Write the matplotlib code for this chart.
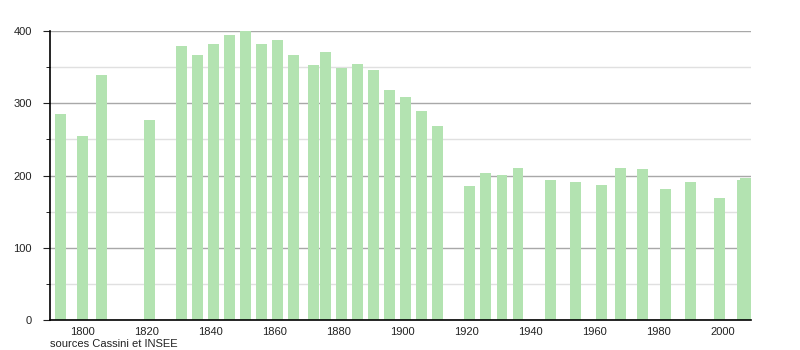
import matplotlib
matplotlib.use("Agg")
import matplotlib.pyplot as plt
from matplotlib.ticker import MultipleLocator

years = [1793, 1800, 1806, 1821, 1831, 1836, 1841, 1846, 1851, 1856,
         1861, 1866, 1872, 1876, 1881, 1886, 1891, 1896, 1901, 1906,
         1911, 1921, 1926, 1931, 1936, 1946, 1954, 1962, 1968, 1975,
         1982, 1990, 1999, 2006, 2007]
population = [285, 255, 339, 277, 379, 367, 382, 394, 400, 382,
              387, 367, 353, 371, 349, 354, 346, 318, 308, 289,
              268, 185, 203, 201, 210, 194, 191, 187, 210, 209,
              181, 191, 169, 194, 196]
source = "sources Cassini et INSEE"

plt.rcParams['font.family'] = ['Liberation Sans', 'DejaVu Sans']

fig = plt.figure(figsize=(8, 3.5), dpi=100)
ax = fig.add_axes([0.0625, 0.0857, 0.8763, 0.8257])

ax.bar(years, population, width=3.43, color="#b3e3b1", zorder=2)

ax.set_xlim(1789.8, 2008.8)
ax.set_ylim(0, 400)
ax.xaxis.set_major_locator(MultipleLocator(20))
ax.yaxis.set_major_locator(MultipleLocator(100))
ax.yaxis.set_minor_locator(MultipleLocator(50))

ax.grid(axis="y", which="major", color="#a8a8a8", linewidth=1, zorder=0)
ax.grid(axis="y", which="minor", color="#e0e0e0", linewidth=1, zorder=0)

for s in ["top", "right"]:
    ax.spines[s].set_visible(False)
ax.spines["left"].set_linewidth(1.2)
ax.spines["bottom"].set_linewidth(1.2)

ax.tick_params(axis="x", length=0, labelsize=8, pad=5, colors="#222222")
ax.tick_params(axis="y", which="major", length=5, labelsize=8, pad=8, colors="#222222")
ax.tick_params(axis="y", which="minor", length=3)

fig.text(0.0625, 0.002, source, fontsize=8, ha="left", va="bottom", color="#222222")

fig.savefig("out.png", dpi=100)
